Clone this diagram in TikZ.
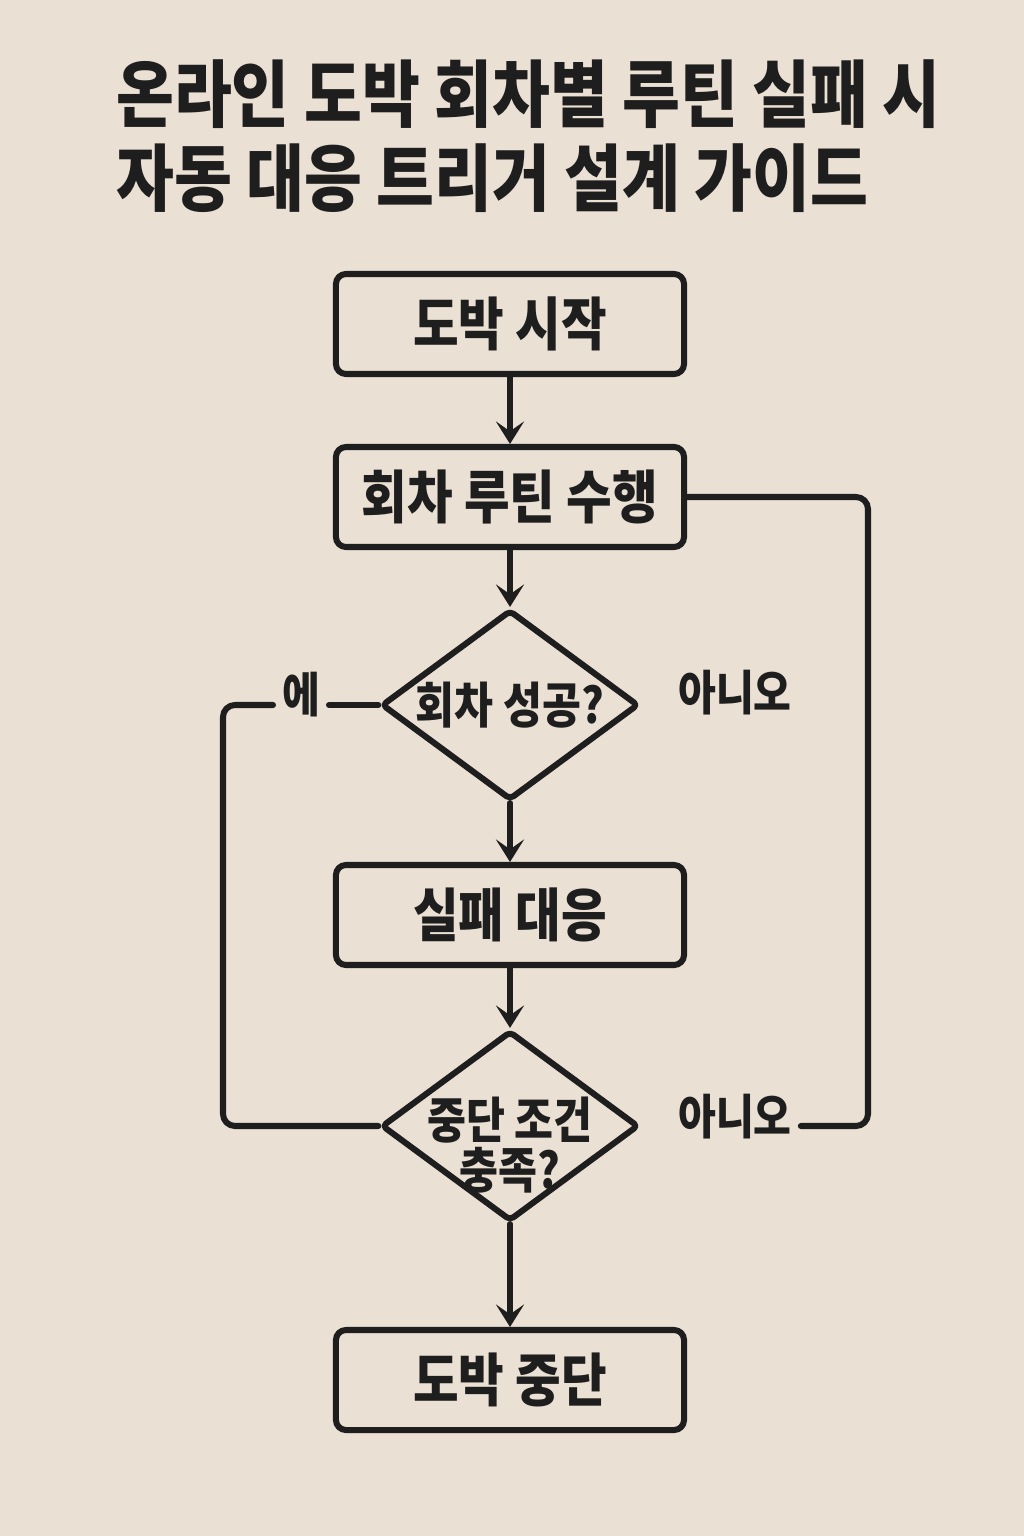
\documentclass[tikz,border=0pt]{standalone}
\usepackage{fontspec}
\setmainfont{Noto Sans CJK KR}[FakeStretch=0.86]
\usetikzlibrary{shapes.geometric,arrows.meta}
\definecolor{paper}{RGB}{234,224,211}
\definecolor{ink}{RGB}{30,30,30}
\begin{document}
\begin{tikzpicture}[x=0.025cm,y=-0.025cm, line join=round, line cap=round,
	box/.style={draw=ink, line width=4.3pt, rounded corners=0.25cm, minimum width=8.7cm, minimum height=2.5cm, text=ink, font=\fontsize{41}{41}\selectfont\bfseries},
	choice/.style={draw=ink, line width=4.3pt, diamond, rounded corners=3pt, minimum width=6.43cm, minimum height=4.75cm, inner sep=0pt},
	qtext/.style={text=ink, align=center, inner sep=0pt, font=\fontsize{35}{36}\selectfont\bfseries},
	ans/.style={text=ink, inner xsep=0.22cm, font=\fontsize{34}{34}\selectfont\bfseries},
	flow/.style={draw=ink, line width=4.3pt, -{Stealth[length=16pt,width=20pt,inset=7pt]}},
	loop/.style={draw=ink, line width=4.3pt, rounded corners=0.3cm}]
	\fill[paper] (0,0) rectangle (1024,1536);
	\node[anchor=west, align=left, text=ink, inner sep=0pt, font=\fontsize{52}{60}\selectfont\bfseries] (title) at (116,136) {온라인 도박 회차별 루틴 실패 시\\자동 대응 트리거 설계 가이드};
	% khối và quyết định
	\node[box] (start) at (510,324) {도박 시작};
	\node[box] (run) at (510,497) {회차 루틴 수행};
	\node[choice] (ok) at (510,705) {};
	\node[qtext] (okq) at (ok.center) {회차 성공?};
	\node[box] (fail) at (510,915) {실패 대응};
	\node[choice] (stop) at (510,1126) {};
	\node[qtext] (stopq) at (510,1145) {중단 조건\\충족?};
	\node[box] (end) at (510,1380) {도박 중단};
	\node[ans] (yes) at (301,695) {에};
	\node[ans] (no1) at (735,693) {아니오};
	\node[ans] (no2) at (735,1117) {아니오};
	\coordinate (lc) at (223,1126);
	\coordinate (rc) at (868,1126);
	\draw[flow] (start)--(run);
	\draw[flow] (run)--(ok);
	\draw[flow] (ok)--(fail);
	\draw[flow] (fail)--(stop);
	\draw[flow] (stop)--(end);
	\draw[loop] (ok.west)--(yes.east |- ok.west);
	\draw[loop] (yes.west |- ok.west) -| (lc)--(stop.west);
	\draw[loop] (run.east) -| (rc)--(no2.east |- rc);
\end{tikzpicture}
\end{document}
